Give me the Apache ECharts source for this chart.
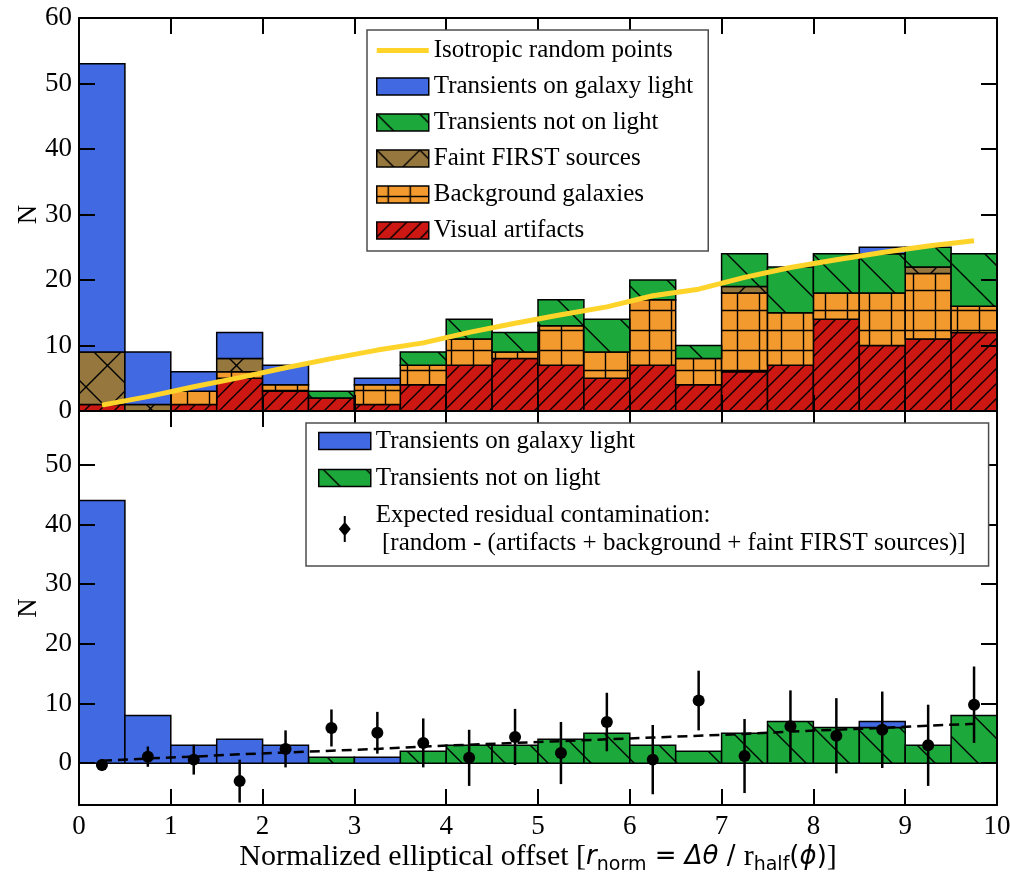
<!DOCTYPE html>
<html>
<head>
<meta charset="utf-8">
<script src="https://cdn.jsdelivr.net/npm/echarts@6/dist/echarts.min.js"></script>
<style>
  html, body { margin: 0; padding: 0; background: #fff; }
  #chart { width: 1010px; height: 873px; }
</style>
</head>
<body>
<div id="chart"></div>
<script>
// Histogram bins of the normalized elliptical offset
const binLo = [0, 0.5, 1, 1.5, 2, 2.5, 3, 3.5, 4, 4.5, 5, 5.5, 6, 6.5, 7, 7.5, 8, 8.5, 9, 9.5];
const binHi = [0.5, 1, 1.5, 2, 2.5, 3, 3.5, 4, 4.5, 5, 5.5, 6, 6.5, 7, 7.5, 8, 8.5, 9, 9.5, 10];
const binMid = [0.25, 0.75, 1.25, 1.75, 2.25, 2.75, 3.25, 3.75, 4.25, 4.75, 5.25, 5.75, 6.25, 6.75, 7.25, 7.75, 8.25, 8.75, 9.25, 9.75];

// Upper panel: stacked counts, bottom layer first
const visualArtifacts   = [1, 0, 1, 5, 3, 2, 1, 4, 7, 8, 7, 5, 7, 4, 6, 7, 14, 10, 11, 12];
const backgroundGals    = [0, 0, 2, 1, 1, 0, 3, 3, 4, 1, 6, 4, 10, 4, 12, 8, 4, 8, 10, 4];
const faintFirst        = [8, 1, 0, 2, 0, 0, 0, 0, 0, 0, 0, 0, 0, 0, 1, 0, 0, 0, 1, 0];
const transientsOffLight = [0, 0, 0, 0, 0, 1, 0, 2, 3, 3, 4, 5, 3, 2, 5, 7, 6, 6, 3, 8];
const transientsOnLight  = [44, 8, 3, 4, 3, 0, 1, 0, 0, 0, 0, 0, 0, 0, 0, 0, 0, 1, 0, 0];
const isotropicRandom   = [0.9, 2.2, 3.7, 5.1, 6.6, 8.0, 9.3, 10.4, 12.0, 13.4, 14.7, 15.9, 17.6, 18.6, 20.4, 21.9, 23.1, 24.2, 25.2, 26.0];

// Lower panel: residual contamination estimate with 1-sigma errors, and its trend
const residual     = [-0.3, 1.1, 0.6, -3.0, 2.4, 5.9, 5.1, 3.4, 0.9, 4.4, 1.7, 6.9, 0.6, 10.5, 1.2, 6.2, 4.6, 5.6, 3.0, 9.8];
const residualErr  = [1.0, 1.7, 2.5, 3.6, 3.1, 3.1, 3.5, 4.1, 4.7, 4.7, 5.2, 4.9, 5.8, 5.0, 6.2, 6.0, 6.3, 6.4, 6.8, 6.4];
const residualTrend = [0.4, 0.8, 1.1, 1.5, 1.8, 2.1, 2.4, 2.8, 3.1, 3.4, 3.7, 4.0, 4.3, 4.6, 4.9, 5.3, 5.6, 5.9, 6.3, 6.6];

const xTicks = [0, 1, 2, 3, 4, 5, 6, 7, 8, 9, 10];

const SERIF = 'Liberation Serif';
const C = {
  blue: '#4169e1', green: '#1ca83a', brown: '#96783f', orange: '#f39a2e', red: '#cd1712', yellow: '#ffd42a'
};

// Hatch fills made as small repeating canvas tiles
function hatch(bg, w, h, draw) {
  const c = document.createElement('canvas');
  c.width = w; c.height = h;
  const g = c.getContext('2d');
  g.fillStyle = bg; g.fillRect(0, 0, w, h);
  g.strokeStyle = '#000'; g.lineWidth = 1.4; g.lineCap = 'square';
  g.beginPath(); draw(g, w, h); g.stroke();
  return { image: c, repeat: 'repeat' };
}
function forward(g, w, h) { for (let k = -1; k <= 1; k++) { g.moveTo(k * w, h); g.lineTo(k * w + w, 0); } }
function backward(g, w, h) { for (let k = -1; k <= 1; k++) { g.moveTo(k * w, 0); g.lineTo(k * w + w, h); } }

const fillRed    = hatch(C.red, 15, 15, forward);
const fillGreen  = hatch(C.green, 43, 43, backward);
const fillBrown  = hatch(C.brown, 43, 43, (g, w, h) => { forward(g, w, h); backward(g, w, h); });
const fillOrange = hatch(C.orange, 22, 20, (g, w, h) => { g.moveTo(11.5, 0); g.lineTo(11.5, h); g.moveTo(0, 10.5); g.lineTo(w, 10.5); });
const fillBlue   = C.blue;

// Turn layered counts into [x0, x1, yBottom, yTop] rectangles
function stack(layers) {
  const base = binLo.map(() => 0);
  return layers.map(vals => vals.map((v, i) => {
    const r = [binLo[i], binHi[i], base[i], base[i] + v];
    base[i] += v;
    return r;
  }));
}

function barRenderer(fill) {
  return function (params, api) {
    const y0 = api.value(2), y1 = api.value(3);
    if (y1 - y0 <= 0) return null;
    const a = api.coord([api.value(0), y0]);
    const b = api.coord([api.value(1), y1]);
    return {
      type: 'rect',
      shape: { x: a[0], y: b[1], width: b[0] - a[0], height: a[1] - b[1] },
      style: { fill: fill, stroke: '#000', lineWidth: 1.5 }
    };
  };
}

function barSeries(name, rects, fill, xi, yi) {
  return {
    type: 'custom', name: name, xAxisIndex: xi, yAxisIndex: yi,
    renderItem: barRenderer(fill),
    itemStyle: { color: fill, borderColor: '#000', borderWidth: 1.5 },
    encode: { x: [0, 1], y: [2, 3] },
    data: rects, z: 2, silent: true
  };
}

const upper = stack([visualArtifacts, backgroundGals, faintFirst, transientsOffLight, transientsOnLight]);
const lower = stack([transientsOffLight, transientsOnLight]);

const spine = { show: true, onZero: false, lineStyle: { color: '#000', width: 2 } };
const ticks = { show: true, inside: true, length: 16, lineStyle: { color: '#000', width: 2 } };
const tickLabel = { fontFamily: SERIF, fontSize: 27, color: '#000' };

function xAxis(grid, pos, labels, extra) {
  return Object.assign({
    type: 'value', gridIndex: grid, position: pos, min: 0, max: 10, interval: 1,
    axisLine: spine, axisTick: ticks, splitLine: { show: false },
    axisLabel: labels ? Object.assign({ margin: 8 }, tickLabel) : { show: false },
    z: 10
  }, extra || {});
}
function yAxis(grid, pos, labels, range, extra) {
  return Object.assign({
    type: 'value', gridIndex: grid, position: pos,
    axisLine: spine, axisTick: ticks, splitLine: { show: false },
    axisLabel: labels ? Object.assign({ margin: 7, formatter: v => (v % 10 === 0 ? String(v) : '') }, tickLabel) : { show: false },
    z: 10
  }, range, extra || {});
}

const axisTitle = '{t|Normalized elliptical offset [}{i|r}{s|norm}{m| = }{i|Δθ}{m| / }{t|r}{s|half}{m|(}{i|ϕ}{m|)}{t|]}';
const yName = {
  name: 'N', nameLocation: 'middle', nameGap: 37, nameMoveOverlap: false,
  nameTextStyle: { fontFamily: SERIF, fontSize: 27, color: '#000' }
};

const option = {
  animation: false,
  backgroundColor: '#fff',
  grid: [
    { left: 79, top: 18, width: 918, height: 393, outerBoundsMode: 'none', containLabel: false },
    { left: 79, top: 411, width: 918, height: 394, outerBoundsMode: 'none', containLabel: false }
  ],
  xAxis: [
    xAxis(0, 'bottom', false),
    xAxis(0, 'top', false),
    xAxis(1, 'bottom', true, {
      name: axisTitle, nameLocation: 'middle', nameGap: 34, nameMoveOverlap: false,
      nameTextStyle: {
        color: '#000',
        rich: {
          t: { fontFamily: SERIF, fontSize: 30, color: '#000', lineHeight: 36 },
          m: { fontFamily: 'DejaVu Sans', fontSize: 26, color: '#000', lineHeight: 36 },
          i: { fontFamily: 'DejaVu Sans', fontStyle: 'italic', fontSize: 26, color: '#000', lineHeight: 36 },
          s: { fontFamily: 'DejaVu Sans', fontSize: 19, color: '#000', verticalAlign: 'bottom', lineHeight: 15 }
        }
      },
      axisLabel: Object.assign({ margin: 8, formatter: v => (xTicks.indexOf(v) >= 0 ? String(v) : '') }, tickLabel)
    }),
    xAxis(1, 'top', false)
  ],
  yAxis: [
    yAxis(0, 'left', true, { min: 0, max: 60, interval: 10 }, yName),
    yAxis(0, 'right', false, { min: 0, max: 60, interval: 10 }),
    yAxis(1, 'left', true, { min: -7, max: 59, splitNumber: 6 }, yName),
    yAxis(1, 'right', false, { min: -7, max: 59, splitNumber: 6 })
  ],
  legend: [
    {
      left: 367, top: 30, orient: 'vertical', selectedMode: false,
      padding: [8, 15, 8, 9], itemGap: 11, itemWidth: 52, itemHeight: 17,
      backgroundColor: '#fff', borderColor: '#4d4d4d', borderWidth: 1.5, borderRadius: 0,
      textStyle: { fontFamily: SERIF, fontSize: 25, lineHeight: 22, color: '#000' },
      z: 20,
      data: [
        { name: 'Isotropic random points', icon: 'path://M0,0h52v5h-52z', itemStyle: { color: C.yellow, borderWidth: 0 } },
        { name: 'Transients on galaxy light', icon: 'rect', itemStyle: { color: fillBlue, borderColor: '#000', borderWidth: 1.5 } },
        { name: 'Transients not on light', icon: 'rect', itemStyle: { color: fillGreen, borderColor: '#000', borderWidth: 1.5 } },
        { name: 'Faint FIRST sources', icon: 'rect', itemStyle: { color: fillBrown, borderColor: '#000', borderWidth: 1.5 } },
        { name: 'Background galaxies', icon: 'rect', itemStyle: { color: fillOrange, borderColor: '#000', borderWidth: 1.5 } },
        { name: 'Visual artifacts', icon: 'rect', itemStyle: { color: fillRed, borderColor: '#000', borderWidth: 1.5 } }
      ]
    },
    {
      left: 306, top: 423, orient: 'vertical', selectedMode: false,
      padding: [4, 23, 9, 12], itemGap: 9, itemWidth: 52, itemHeight: 26,
      backgroundColor: '#fff', borderColor: '#4d4d4d', borderWidth: 1.5, borderRadius: 0,
      textStyle: { fontFamily: SERIF, fontSize: 25, lineHeight: 28, color: '#000' },
      z: 20,
      data: [
        { name: 'Transients on galaxy light', icon: 'path://M0,0h52v17h-52z', itemStyle: { color: fillBlue, borderColor: '#000', borderWidth: 1.5 } },
        { name: 'Transients not on light', icon: 'path://M0,0h52v17h-52z', itemStyle: { color: fillGreen, borderColor: '#000', borderWidth: 1.5 } },
        { name: 'Expected residual contamination:\n [random - (artifacts + background + faint FIRST sources)]',
          icon: 'path://M5,0H7V7L12,13L7,19V26H5V19L0,13L5,7Z', itemStyle: { color: '#000', borderWidth: 0, opacity: 1 } }
      ]
    }
  ],
  series: [
    barSeries('Visual artifacts', upper[0], fillRed, 0, 0),
    barSeries('Background galaxies', upper[1], fillOrange, 0, 0),
    barSeries('Faint FIRST sources', upper[2], fillBrown, 0, 0),
    barSeries('Transients not on light', upper[3], fillGreen, 0, 0),
    barSeries('Transients on galaxy light', upper[4], fillBlue, 0, 0),
    {
      type: 'line', name: 'Isotropic random points', xAxisIndex: 0, yAxisIndex: 0,
      data: binMid.map((x, i) => [x, isotropicRandom[i]]),
      showSymbol: false, symbol: 'none', z: 5, silent: true,
      lineStyle: { color: C.yellow, width: 5, cap: 'butt' }, itemStyle: { color: C.yellow }
    },
    barSeries('Transients not on light', lower[0], fillGreen, 2, 2),
    barSeries('Transients on galaxy light', lower[1], fillBlue, 2, 2),
    {
      type: 'line', name: 'trend', xAxisIndex: 2, yAxisIndex: 2,
      data: binMid.map((x, i) => [x, residualTrend[i]]),
      showSymbol: false, symbol: 'none', z: 5, silent: true,
      lineStyle: { color: '#000', width: 2.5, type: [10, 6] }
    },
    {
      type: 'custom', name: 'residual errors', xAxisIndex: 2, yAxisIndex: 2, z: 6, silent: true,
      data: binMid.map((x, i) => [x, residual[i] - residualErr[i], residual[i] + residualErr[i]]),
      encode: { x: 0, y: [1, 2] },
      renderItem: function (params, api) {
        const lo = api.coord([api.value(0), api.value(1)]);
        const hi = api.coord([api.value(0), api.value(2)]);
        return { type: 'line', shape: { x1: lo[0], y1: lo[1], x2: hi[0], y2: hi[1] }, style: { stroke: '#000', lineWidth: 2.5 } };
      }
    },
    {
      type: 'scatter', name: 'Expected residual contamination:\n [random - (artifacts + background + faint FIRST sources)]',
      xAxisIndex: 2, yAxisIndex: 2, z: 7, silent: true,
      data: binMid.map((x, i) => [x, residual[i]]),
      symbol: 'circle', symbolSize: 12, itemStyle: { color: '#000', opacity: 1 }
    }
  ]
};

const chart = echarts.init(document.getElementById('chart'), null, { renderer: 'canvas' });
chart.setOption(option);
</script>
</body>
</html>
